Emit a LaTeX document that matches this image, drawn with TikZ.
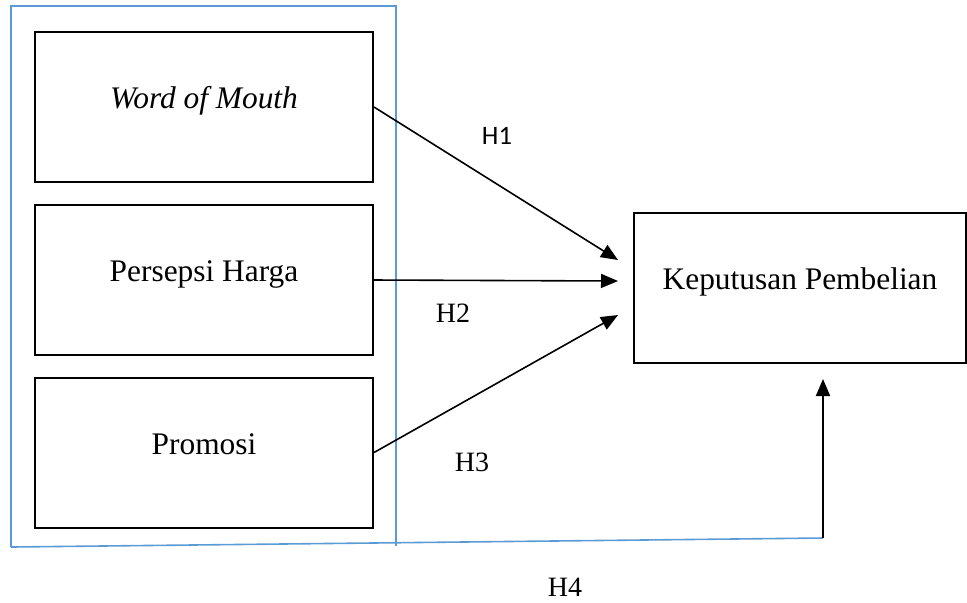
\documentclass[tikz,border=0pt]{standalone}
\usepackage{fontspec}
\setmainfont{Liberation Serif}
\newfontfamily\hfont{Carlito}
\usetikzlibrary{arrows.meta}
\definecolor{accent}{RGB}{91,155,213}

\begin{document}
\begin{tikzpicture}[x=0.5pt,y=-0.5pt,
  var/.style={draw,line width=1pt,minimum width=169pt,minimum height=75pt,inner sep=0pt,
    text height=11pt,text depth=9.5pt,font=\fontsize{15.7}{19}\selectfont},
  arr/.style={line width=0.8pt,-{Triangle[length=8.5pt,width=7pt]}},
  hyp/.style={inner sep=0pt,font=\fontsize{14}{17}\selectfont},
  frame/.style={draw=accent,line width=0.8pt}]
\useasboundingbox (0,0) rectangle (967,602);
\node[var] (wom) at (204,107) {\textit{Word of Mouth}};
\node[var] (harga) at (204,280) {Persepsi Harga};
\node[var] (promo) at (204,452.5) {Promosi};
\node[var,minimum width=166pt] (kep) at (800,288) {Keputusan Pembelian};
\coordinate (e1) at (618,260);
\coordinate (e2) at (618,281);
\coordinate (e3) at (618,315);
\coordinate (e4) at (823,379);
\coordinate (fa) at (11,547);
\coordinate (fb) at (823,538);
\draw[frame] (fa) -- (11,6) -- (396,6) -- (396,546);
\draw[frame] (fa) -- (fb);
\draw[arr] (wom.east) -- (e1);
\draw[arr] (harga.east) -- (e2);
\draw[arr] (promo.east) -- (e3);
\draw[arr,line width=1pt] (fb) -- (e4);
\node[hyp,font=\hfont\fontsize{13.3}{16}\selectfont] (h1) at (497,136) {H1};
\node[hyp] (h2) at (453,313) {H2};
\node[hyp] (h3) at (472,462) {H3};
\node[hyp] (h4) at (565,587) {H4};
\end{tikzpicture}
\end{document}
